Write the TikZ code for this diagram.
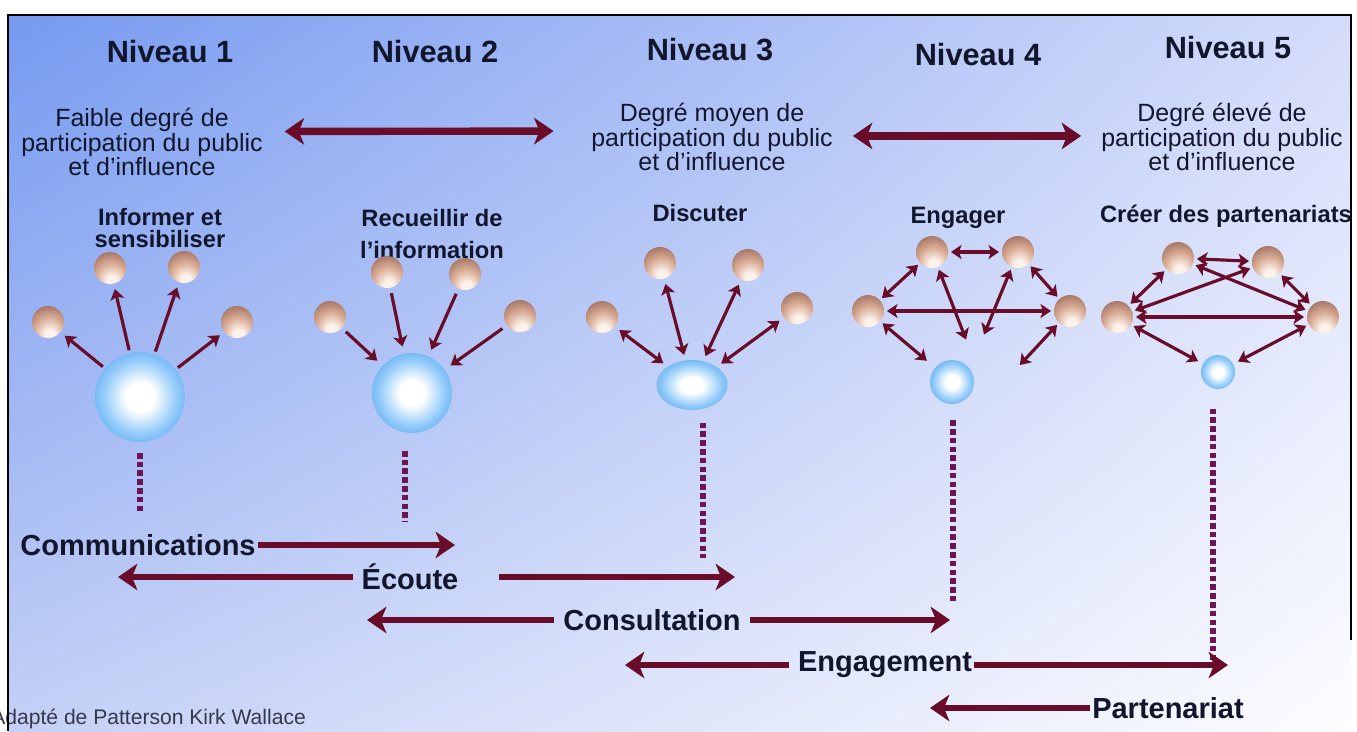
\documentclass[tikz,border=0pt]{standalone}
\usepackage{fontspec}
\setmainfont{Liberation Sans}
\usetikzlibrary{arrows.meta, shapes.geometric, shadings, positioning}

\definecolor{bgtl}{RGB}{118,154,240}
\definecolor{bgtr}{RGB}{212,220,250}
\definecolor{bgbl}{RGB}{196,208,246}
\definecolor{bgbr}{RGB}{253,253,255}
\definecolor{ink}{RGB}{18,22,45}
\definecolor{linkred}{RGB}{105,12,42}
\definecolor{dotpurple}{RGB}{108,20,84}
\definecolor{ballhi}{RGB}{252,242,234}
\definecolor{ballmid}{RGB}{215,168,145}
\definecolor{balldark}{RGB}{135,88,78}
\definecolor{hubpale}{RGB}{150,205,250}
\definecolor{hubmid}{RGB}{90,168,240}
\definecolor{hubdark}{RGB}{50,134,220}

\pgfdeclareradialshading{ballshade}{\pgfpoint{3bp}{-22bp}}{color(0bp)=(ballhi); color(8bp)=(ballhi); color(24bp)=(ballmid); color(46bp)=(balldark); color(80bp)=(balldark)}
\pgfdeclareradialshading{hubshade}{\pgfpoint{0bp}{0bp}}{color(0bp)=(white); color(8bp)=(white); color(20bp)=(hubpale); color(30bp)=(hubmid); color(42bp)=(hubdark); color(50bp)=(hubdark)}

\begin{document}
\begin{tikzpicture}[x=0.02cm, y=-0.02cm,
  ball-node/.style={circle, inner sep=0pt, minimum size=0.64cm, shade, shading=ballshade},
  hub-node/.style={circle, inner sep=0pt, shade, shading=hubshade},
  level-title/.style={font=\bfseries\fontsize{17.5}{17.5}\selectfont, text=ink},
  degree-text/.style={align=center, font=\fontsize{14.2}{14}\selectfont, text=ink},
  mode-text/.style={align=center, font=\bfseries\fontsize{13.5}{13}\selectfont, text=ink},
  flow-label/.style={font=\bfseries\fontsize{16.5}{16.5}\selectfont, text=ink, inner sep=1pt},
  big-arrow/.style={draw=linkred, line width=3.6pt, >={Stealth[length=11pt, width=15pt, inset=3pt]}, ->},
  big-both/.style={big-arrow, line width=4.2pt, <->},
  link/.style={draw=linkred, line width=1.8pt, >={Stealth[length=6pt, width=8pt, inset=1.5pt]}, ->, shorten >=1.5pt, shorten <=1.5pt},
  link-both/.style={link, <->},
  dots/.style={draw=dotpurple, line width=3.4pt, dash pattern=on 3.2pt off 1.8pt}
]
  \useasboundingbox (0,0) rectangle (1357,731);
  \fill[white] (0,0) rectangle (1357,731);
  \shade[upper left=bgtl, upper right=bgtr, lower left=bgbl, lower right=bgbr] (8,15) rectangle (1351,731);

  % Levels
  \node[level-title] (L1) at (170,52) {Niveau 1};
  \node[level-title] (L2) at (435,52) {Niveau 2};
  \node[level-title] (L3) at (710,50) {Niveau 3};
  \node[level-title] (L4) at (978,55) {Niveau 4};
  \node[level-title] (L5) at (1228,48) {Niveau 5};

  \node[degree-text] (DLow) at (142,142) {Faible degré de\\participation du public\\et d’influence};
  \node[degree-text] (DMid) at (712,137) {Degré moyen de\\participation du public\\et d’influence};
  \node[degree-text] (DHigh) at (1222,137) {Degré élevé de\\participation du public\\et d’influence};

  \draw[big-both, shorten <=9pt, shorten >=18pt] ([yshift=6pt]DLow.east) -- ([yshift=3.4pt]DMid.west);
  \draw[big-both, shorten <=8pt, shorten >=8pt] ([yshift=0.6pt]DMid.east) -- ([yshift=0.6pt]DHigh.west);

  \node[mode-text] (M1) at (160,228) {Informer et\\sensibiliser};
  \node[mode-text, font=\bfseries\fontsize{13.5}{18}\selectfont] (M2) at (432,234) {Recueillir de\\l’information};
  \node[mode-text] (M3) at (700,213) {Discuter};
  \node[mode-text] (M4) at (958,218) {Engager};
  \node[mode-text] (M5) at (1226,216) {Créer des partenariats};

  % Niveau 1
  \node[hub-node, minimum size=1.8cm] (H1) at (140,397) {};
  \node[ball-node] (A1) at (48,322) {};
  \node[ball-node] (A2) at (110,268) {};
  \node[ball-node] (A3) at (184,267) {};
  \node[ball-node] (A4) at (237,322) {};
  \foreach \b in {A1,A2,A3,A4}
    \draw[link, shorten >=3pt] (H1) -- (\b);

  % Niveau 2
  \node[hub-node, minimum size=1.6cm] (H2) at (412,393) {};
  \node[ball-node] (B1) at (330,317) {};
  \node[ball-node] (B2) at (387,272) {};
  \node[ball-node] (B3) at (465,274) {};
  \node[ball-node] (B4) at (520,316) {};
  \foreach \b in {B1,B2,B3,B4}
    \draw[link, shorten <=3pt, shorten >=4pt] (\b) -- (H2);

  % Niveau 3
  \node[hub-node, ellipse, minimum width=1.42cm, minimum height=1.0cm] (H3) at (692,385) {};
  \node[ball-node] (C1) at (602,317) {};
  \node[ball-node] (C2) at (660,263) {};
  \node[ball-node] (C3) at (748,265) {};
  \node[ball-node] (C4) at (797,308) {};
  \foreach \b in {C1,C2,C3,C4}
    \draw[link-both, shorten <=3pt, shorten >=3pt] (\b) -- (H3);

  % Niveau 4
  \node[hub-node, minimum size=0.88cm] (H4) at (952,382) {};
  \node[ball-node] (E1) at (868,311) {};
  \node[ball-node] (E2) at (932,252) {};
  \node[ball-node] (E3) at (1018,252) {};
  \node[ball-node] (E4) at (1070,311) {};
  \coordinate (E2x) at (967,342);
  \coordinate (E3x) at (983,337);
  \coordinate (E4x) at (1018,367);
  \draw[link-both] (E1) -- (E2);
  \draw[link-both] (E2) -- (E3);
  \draw[link-both] (E3) -- (E4);
  \draw[link-both] (E1) -- (E4);
  \draw[link-both] (E2) -- (E2x);
  \draw[link-both] (E3) -- (E3x);
  \draw[link-both, shorten >=6pt] (E1) -- (H4);
  \draw[link-both] (E4) -- (E4x);

  % Niveau 5
  \node[hub-node, minimum size=0.68cm] (H5) at (1218,372) {};
  \node[ball-node] (P1) at (1117,317) {};
  \node[ball-node] (P2) at (1178,258) {};
  \node[ball-node] (P3) at (1268,262) {};
  \node[ball-node] (P4) at (1323,317) {};
  \draw[link-both] (P1) -- (P2);
  \draw[link-both] (P2) -- (P3);
  \draw[link-both] (P3) -- (P4);
  \draw[link-both] (P1) -- (P4);
  \draw[link-both] (P1) -- (P3);
  \draw[link-both] (P2) -- (P4);
  \draw[link-both, shorten >=3pt] (P1) -- (H5);
  \draw[link-both, shorten >=3pt] (P4) -- (H5);

  % Dotted drops
  \coordinate (F1) at (140,512);
  \coordinate (F2) at (405,522);
  \coordinate (F3) at (703,558);
  \coordinate (F4) at (953,604);
  \coordinate (F5) at (1213,660);
  \draw[dots, shorten <=6pt] (H1.south) -- (F1);
  \draw[dots, shorten <=10pt] (H2.south -| F2) -- (F2);
  \draw[dots, shorten <=7pt] (H3.south -| F3) -- (F3);
  \draw[dots, shorten <=9pt] (H4.south -| F4) -- (F4);
  \draw[dots, shorten <=11pt] (H5.south -| F5) -- (F5);

  % Flows
  \node[flow-label] (Comm) at (138,545) {Communications};
  \node[flow-label] (Ecoute) at (410,577) {Écoute};
  \node[flow-label] (Consult) at (652,620) {Consultation};
  \node[flow-label] (Engage) at (885,665) {Engagement};
  \node[flow-label] (Partner) at (1168,708) {Partenariat};

  \coordinate (CommR) at (455,545);
  \coordinate (EcouteL) at (118,577);
  \coordinate (EcouteR) at (735,577);
  \coordinate (ConsultL) at (367,620);
  \coordinate (ConsultR) at (950,620);
  \coordinate (EngageL) at (625,665);
  \coordinate (EngageR) at (1228,665);
  \coordinate (PartnerL) at (930,708);

  \draw[big-arrow] (Comm.east) -- (CommR);
  \draw[big-arrow, shorten <=4pt] (Ecoute.west) -- (EcouteL);
  \draw[big-arrow, shorten <=22pt] (Ecoute.east) -- (EcouteR);
  \draw[big-arrow, shorten <=4pt] (Consult.west) -- (ConsultL);
  \draw[big-arrow, shorten <=4pt] (Consult.east) -- (ConsultR);
  \draw[big-arrow, shorten <=4pt] (Engage.west) -- (EngageL);
  \draw[big-arrow] (Engage.east) -- (EngageR);
  \draw[big-arrow] (Partner.west) -- (PartnerL);

  \node[anchor=base west, inner sep=0pt, font=\fontsize{12}{12}\selectfont, text=ink!85] (Credit) at (-9,724) {Adapté de Patterson Kirk Wallace};

  % Frame
  \draw[black, line width=1.2pt] (8,731) -- (8,15) -- (1351,15) -- (1351,640);
\end{tikzpicture}
\end{document}
